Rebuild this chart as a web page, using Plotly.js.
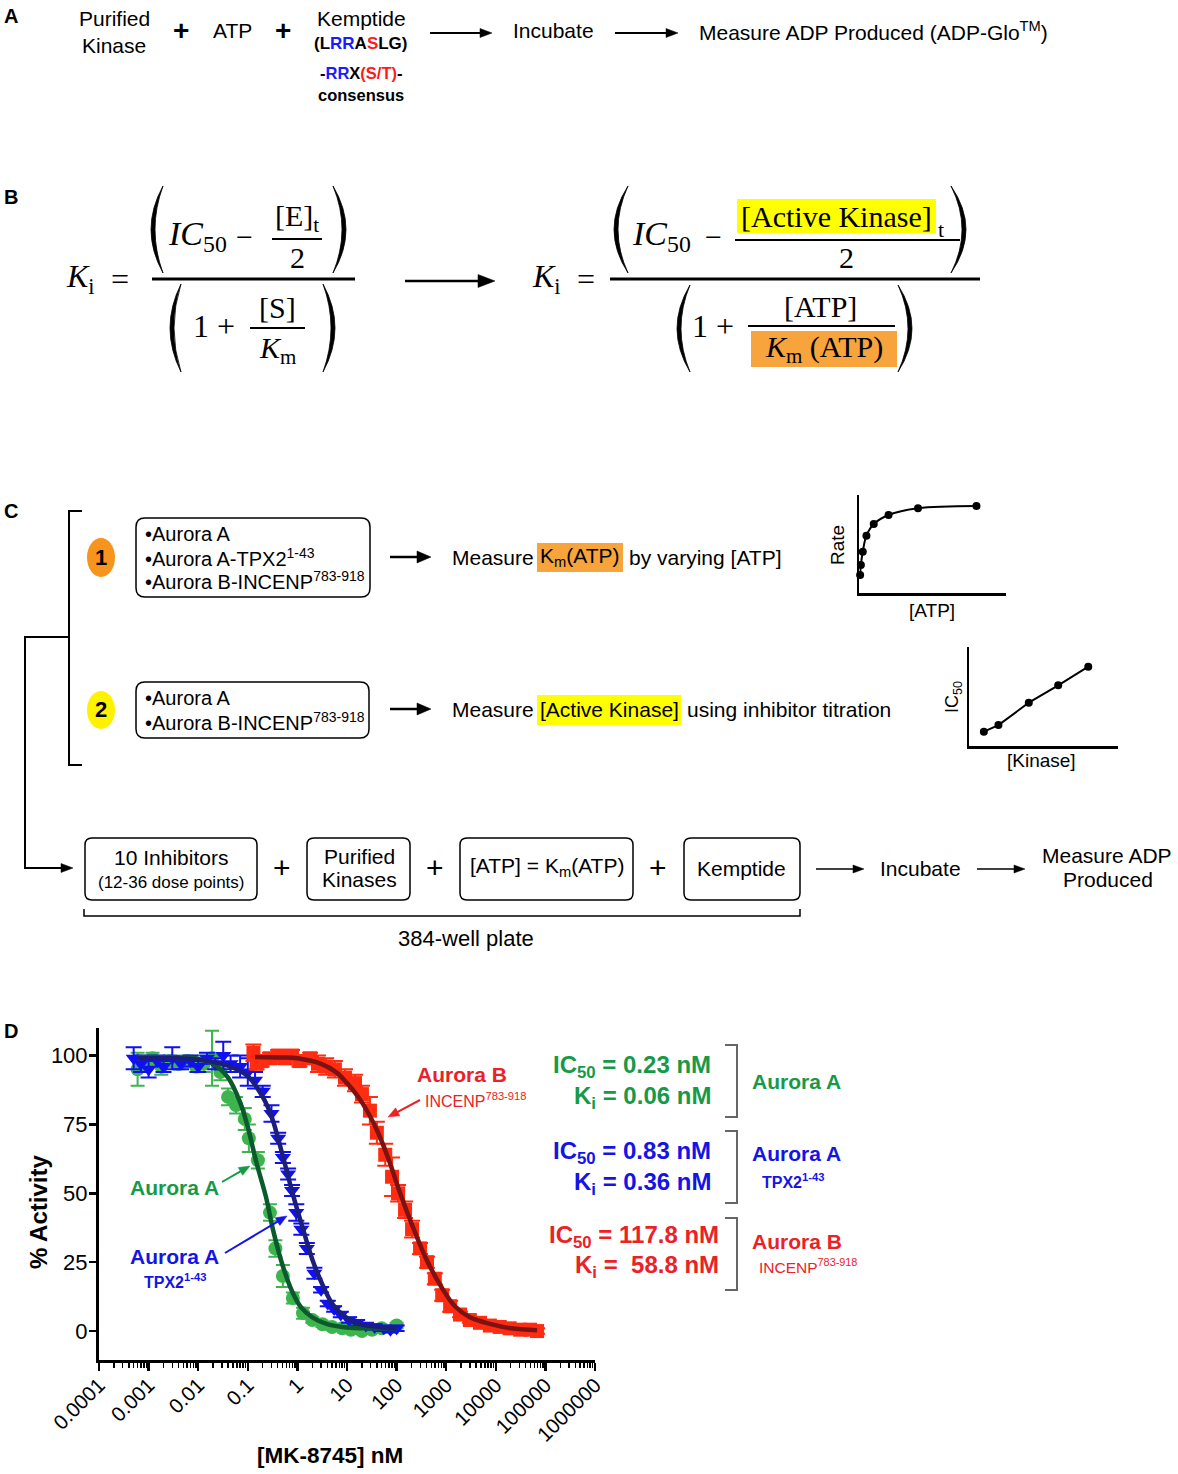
<!DOCTYPE html>
<html><head><meta charset="utf-8">
<script src="https://cdn.plot.ly/plotly-3.0.1.min.js"></script>
<style>html,body{margin:0;padding:0;background:#fff}</style>
</head><body><div id="chart" style="width:1178px;height:1474px"></div>
<script>
// ---------------- DATA (panel D: MK-8745 dose response) ----------------
const greenDose = [0.0006,0.0008,0.0012,0.0018,0.0027,0.004,0.006,0.009,0.013,0.019,0.028,0.04,0.058,0.087,0.105,0.16,0.28,0.36,0.51,0.81,1.3,2.0,3.2,5.0,8.0,12,20,32,50,100];
const greenAct  = [95,97,99,96,98,97,98,96,97,99,94,85,82,77,70,62,43,30,20,12,6.5,4,2.5,1.5,1,0.5,0,0.5,1,2];
const greenErr  = [6,2,2,3,2,2,2,2,3,10,3,3,3,4,5,3,3,3,4,2,2,1,1,1,1,1,1,1,1,1];

const blueDose = [0.0005,0.0007,0.001,0.0015,0.002,0.003,0.0045,0.007,0.01,0.015,0.022,0.032,0.045,0.07,0.1,0.14,0.2,0.3,0.41,0.51,0.65,0.78,0.95,1.2,1.55,2.2,3.0,4.1,5.5,7.5,11,16,24,36,55,75,100];
const blueAct  = [99,97,95,98,96,99,97,98,96,99,97,100,97,96,94,91,87,79,70,63,57,51,43,37,30,21,15,10,8,6,4,3,2,1.5,1,0.5,1];
const blueErr  = [4,3,3,2,2,4,2,2,2,2,2,5,3,4,5,3,2,3,2,2,2,2,3,2,2,2,1,1,1,1,1,1,1,1,1,1,1];

const redDose = [0.13,0.15,0.19,0.28,0.41,0.56,0.78,1.1,1.8,2.6,3.8,5.7,9.1,14.5,20,29,40,59,81,107,148,205,297,410,590,830,1200,1900,3000,4800,7600,12000,19000,31000,49000,68000];
const redAct  = [101,97,98,99,100,99,100,98,99,97,96,95,92,90,86,80,72,64,56,50,44,37,30,25,19,13,9,6,4,3,2,1.5,1,0.5,0.5,0];
const redErr  = [3,2,2,2,2,2,2,2,2,3,3,3,3,3,3,5,4,4,7,3,3,3,2,2,2,2,2,1,1,1,1,1,1,1,1,1];

// fitted curves
const greenFitX = [0.0006,0.005,0.01,0.02,0.04,0.07,0.1,0.15,0.23,0.33,0.5,0.8,1.2,2,4,10,30,100];
const greenFitY = [99.5,99.3,98.8,97,92,83,74,61,49,36,24,14,8.5,5,2.5,1.3,1,1];
const blueFitX = [0.0006,0.003,0.01,0.03,0.06,0.1,0.2,0.3,0.5,0.8,1.3,2,3,5,8,15,30,100];
const blueFitY = [99,99,98.5,97,95,92.5,85,78,64,50,37,26,18,10,6,3,1.8,1];
const redFitX = [0.14,0.5,1,3,6,10,20,40,70,118,200,400,800,1500,3000,8000,20000,68000];
const redFitY = [99.5,99.3,99,97,94,90,83,73,62,50,39,26,16,9,5,2.5,1,0.3];

// tick labels
const xTickVals = [0.0001,0.001,0.01,0.1,1,10,100,1000,10000,100000,1000000];
const xTickText = ['0.0001','0.001','0.01','0.1','1','10','100','1000','10000','100000','1000000'];
const yTickVals = [0,25,50,75,100];

// inset schematics (panel C)
const atpConc = [0.5,1.0,2.3,4.8,9.8,19.9,40,79.9];
const atpRate = [18.6,28.8,42.3,58.6,70.5,79.7,86.5,88.8];
const kinaseConc = [10,19.8,40.2,60,80.2];
const kinaseIC50 = [14.4,21.1,43.6,61.1,79.9];

// ---------------- helpers ----------------
const W = 1178, H = 1474;
const X = p => p / W;
const Y = p => 1 - p / H;
const SANS = '"Liberation Sans",Arial,sans-serif';
const SERIF = '"Liberation Serif","Times New Roman",serif';

const GREEN_TXT = '#169a48', GREEN_MK = '#3db54c', GREEN_FIT = '#0b5a2e';
const BLUE_TXT = '#1414e6', BLUE_MK = '#1010f2', BLUE_FIT = '#1c1f7a';
const RED_TXT = '#ea2228', RED_MK = '#ff2c12', RED_FIT = '#7d1212';
const ORANGE = '#f8a43c', YELLOW = '#ffff00';

function T(x, y, text, size, o = {}) {
  const a = {xref:'paper', yref:'paper', x:X(x), y:Y(y), text, showarrow:false,
    xanchor:o.xa || 'center', yanchor:o.ya || 'middle',
    font:{family:o.family || SANS, size, color:o.color || '#000'}};
  if (o.angle) a.textangle = o.angle;
  return a;
}
function P(str) {
  let n = 0;
  return str.trim().split(/[\s,]+/).map(t => {
    if (/^[A-Za-z]$/.test(t)) return t;
    const v = parseFloat(t); const r = (n % 2 === 0) ? X(v) : Y(v); n++;
    return r.toFixed(6);
  }).join(' ');
}
function pathShape(str, color = '#000', w = 2, fill) {
  const s = {type:'path', xref:'paper', yref:'paper', path:P(str), line:{color, width:w}};
  if (fill) s.fillcolor = fill;
  return s;
}
function line(x0, y0, x1, y1, w = 2, color = '#000') {
  return {type:'line', xref:'paper', yref:'paper', x0:X(x0), y0:Y(y0), x1:X(x1), y1:Y(y1), line:{color, width:w}};
}
function rect(x0, y0, x1, y1, fill) {
  return {type:'rect', xref:'paper', yref:'paper', x0:X(x0), y0:Y(y0), x1:X(x1), y1:Y(y1), fillcolor:fill, line:{width:0}, layer:'below'};
}
function ell(x0, y0, x1, y1, fill) {
  return {type:'circle', xref:'paper', yref:'paper', x0:X(x0), y0:Y(y0), x1:X(x1), y1:Y(y1), fillcolor:fill, line:{width:0}};
}
function rbox(x0, y0, x1, y1, r = 8) {
  return pathShape(`M ${x0+r} ${y0} L ${x1-r} ${y0} Q ${x1} ${y0} ${x1} ${y0+r} L ${x1} ${y1-r} Q ${x1} ${y1} ${x1-r} ${y1} L ${x0+r} ${y1} Q ${x0} ${y1} ${x0} ${y1-r} L ${x0} ${y0+r} Q ${x0} ${y0} ${x0+r} ${y0} Z`, '#000', 1.5);
}
function paren(xe, xm, y0, y1, th) {
  const ym = (y0 + y1) / 2;
  const c1 = 2 * xm - xe, c2 = 2 * (xm + th) - xe;
  return pathShape(`M ${xe} ${y0} Q ${c1} ${ym} ${xe} ${y1} Q ${c2} ${ym} ${xe} ${y0} Z`, '#000', 0.8, '#000');
}
function arrow(x0, y0, x1, y1, color = '#000', w = 1.8, hl = 12, hw = 9) {
  const dx = x1 - x0, dy = y1 - y0, L = Math.hypot(dx, dy), ux = dx / L, uy = dy / L;
  const bx = x1 - ux * hl, by = y1 - uy * hl, nx = -uy, ny = ux;
  return [line(x0, y0, bx + ux, by + uy, w, color),
    pathShape(`M ${x1} ${y1} L ${bx + nx * hw / 2} ${by + ny * hw / 2} L ${bx - nx * hw / 2} ${by - ny * hw / 2} Z`, color, 0.5, color)];
}

// ---------------- traces ----------------
const traces = [
  {x:greenDose, y:greenAct, type:'scatter', mode:'markers', name:'Aurora A', cliponaxis:false,
   marker:{symbol:'circle', size:14, color:GREEN_MK},
   error_y:{type:'data', array:greenErr, visible:true, color:GREEN_MK, thickness:2, width:7}},
  {x:blueDose, y:blueAct, type:'scatter', mode:'markers', name:'Aurora A-TPX2', cliponaxis:false,
   marker:{symbol:'triangle-down', size:14, color:BLUE_MK},
   error_y:{type:'data', array:blueErr, visible:true, color:BLUE_MK, thickness:2, width:8}},
  {x:redDose, y:redAct, type:'scatter', mode:'markers', name:'Aurora B-INCENP', cliponaxis:false,
   marker:{symbol:'square', size:14, color:RED_MK},
   error_y:{type:'data', array:redErr, visible:true, color:RED_MK, thickness:2, width:8}},
  {x:greenFitX, y:greenFitY, type:'scatter', mode:'lines', line:{color:GREEN_FIT, width:4.5, shape:'spline', smoothing:1}},
  {x:blueFitX, y:blueFitY, type:'scatter', mode:'lines', line:{color:BLUE_FIT, width:4.5, shape:'spline', smoothing:1}},
  {x:redFitX, y:redFitY, type:'scatter', mode:'lines', line:{color:RED_FIT, width:4.5, shape:'spline', smoothing:1}},
  {x:atpConc, y:atpRate, xaxis:'x2', yaxis:'y2', type:'scatter', mode:'lines+markers', cliponaxis:false,
   line:{color:'#000', width:2, shape:'spline'}, marker:{color:'#000', size:8}},
  {x:kinaseConc, y:kinaseIC50, xaxis:'x3', yaxis:'y3', type:'scatter', mode:'lines+markers', cliponaxis:false,
   line:{color:'#000', width:2}, marker:{color:'#000', size:8}}
];

const minorVals = [];
for (let d = -4; d < 6; d++) for (let k = 2; k <= 9; k++) minorVals.push(k * Math.pow(10, d));

const insetAxis = (dom, anchor) => ({domain:dom, range:[0,100], anchor, showline:true, linewidth:2.5, linecolor:'#000',
  showticklabels:false, ticks:'', showgrid:false, zeroline:false, fixedrange:true});

// ---------------- shapes ----------------
const shapes = [
  // panel B left equation
  line(152,279,355,279,3), line(272,239,322,239,2), line(250,328,305,328,2),
  paren(163,151,186,273,4), paren(333,346,186,273,-4),
  paren(181,170,284,372,4), paren(323,335,284,372,-4),
  // panel B right equation
  rect(737,199,936,233,YELLOW), rect(751,331,897,367,ORANGE),
  line(610,279,980,279,3), line(735,240,960,240,2), line(748,326,895,326,2),
  paren(628,614,186,273,4), paren(951,966,186,273,-4),
  paren(690,677,285,372,4), paren(898,912,285,372,-4),
  // panel C bracket and branch
  pathShape('M 82 511 L 69 511 L 69 765 L 82 765', '#000', 2),
  pathShape('M 69 637 L 25 637 L 25 868 L 60 868', '#000', 2),
  ell(87,538,115,577,'#f7941d'), ell(87,691,115,729,'#fff200'),
  rbox(136,518,370,597,9), rbox(136,682,369,738,9),
  rect(537,543,623,572,ORANGE), rect(537,695,681,725,YELLOW),
  rbox(85,838,257,900,7), rbox(307,838,410,900,7), rbox(460,838,633,900,7), rbox(684,838,800,900,7),
  pathShape('M 84 909 L 84 916 L 800 916 L 800 909', '#000', 1.5),
  // panel D brackets
  pathShape('M 725 1045 L 737 1045 L 737 1117 L 725 1117', '#666', 2),
  pathShape('M 725 1131 L 737 1131 L 737 1203 L 725 1203', '#666', 2),
  pathShape('M 725 1218 L 737 1218 L 737 1290 L 725 1290', '#666', 2),
  // arrows
  ...arrow(430,33,492,33,'#000',1.8,12,9), ...arrow(615,33,678,33,'#000',1.8,12,9),
  ...arrow(405,281,495,281,'#000',2.5,17,13),
  ...arrow(25,868,73,868,'#000',2,12,9),
  ...arrow(390,557,431,557,'#000',2.5,14,12), ...arrow(390,709,431,709,'#000',2.5,14,12),
  ...arrow(816,869,864,869,'#000',1.5,11,8), ...arrow(977,869,1025,869,'#000',1.5,11,8),
  ...arrow(420,1100,388,1117,RED_TXT,2,11,9),
  ...arrow(222,1182,250,1166,GREEN_TXT,2,11,9),
  ...arrow(225,1253,287,1216,BLUE_TXT,2,11,9)
];

// ---------------- annotations ----------------
const B = s => '<b>' + s + '</b>';
const NB = '\u00a0';
const ann = [
  T(2,16,B('A'),20,{xa:'left'}), T(2,197,B('B'),20,{xa:'left'}),
  T(2,511,B('C'),20,{xa:'left'}), T(2,1031,B('D'),20,{xa:'left'}),
  // panel A
  T(114,19,'Purified',21), T(114,45,'Kinase',21),
  T(181,31,B('+'),28), T(232,31,'ATP',21), T(283,31,B('+'),28),
  T(361,19,'Kemptide',21),
  T(361,43,B('(L<span style="color:#1a1aff">RR</span>A<span style="color:#ff1a1a">S</span>LG)'),17),
  T(361,73,B('-<span style="color:#1a1aff">RR</span>X<span style="color:#ff1a1a">(S/T)</span>-'),16.5),
  T(361,95,B('consensus'),16.5),
  T(553,31,'Incubate',21),
  T(697,31,'Measure ADP Produced (ADP-Glo<sup>TM</sup>)',21,{xa:'left'}),
  // panel B left
  T(64,278,'<i>K</i><sub>i</sub>',32,{family:SERIF, xa:'left'}), T(120,279,'=',32,{family:SERIF}),
  T(166,236,'<i>IC</i><sub>50</sub>',34,{family:SERIF, xa:'left'}), T(244,237,'\u2212',30,{family:SERIF}),
  T(297,218,'[E]<sub>t</sub>',30,{family:SERIF}), T(297,257,'2',30,{family:SERIF}),
  T(214,326,'1 +',32,{family:SERIF}), T(277,307,'[S]',30,{family:SERIF}),
  T(277,350,'<i>K</i><sub>m</sub>',30,{family:SERIF}),
  // panel B right
  T(530,278,'<i>K</i><sub>i</sub>',32,{family:SERIF, xa:'left'}), T(586,279,'=',32,{family:SERIF}),
  T(630,236,'<i>IC</i><sub>50</sub>',34,{family:SERIF, xa:'left'}), T(714,237,'\u2212',30,{family:SERIF}),
  T(836,216,'[Active Kinase]',30,{family:SERIF}), T(941,229,'t',22,{family:SERIF}),
  T(846,258,'2',30,{family:SERIF}),
  T(713,326,'1 +',32,{family:SERIF}), T(820,306,'[ATP]',30,{family:SERIF}),
  T(824,349,'<i>K</i><sub>m</sub> (ATP)',30,{family:SERIF}),
  // panel C
  T(101,557,B('1'),22), T(101,710,B('2'),22),
  T(143,534,'\u2022Aurora A',20,{xa:'left'}), T(143,557,'\u2022Aurora A-TPX2<sup>1-43</sup>',20,{xa:'left'}),
  T(143,580,'\u2022Aurora B-INCENP<sup>783-918</sup>',20,{xa:'left'}),
  T(450,557,'Measure',21,{xa:'left'}), T(580,557,'K<sub>m</sub>(ATP)',21), T(627,557,'by varying [ATP]',21,{xa:'left'}),
  T(143,698,'\u2022Aurora A',20,{xa:'left'}), T(143,721,'\u2022Aurora B-INCENP<sup>783-918</sup>',20,{xa:'left'}),
  T(450,709,'Measure',21,{xa:'left'}), T(609,710,'[Active Kinase]',21), T(685,709,'using inhibitor titration',21,{xa:'left'}),
  T(838,545,'Rate',19,{angle:-90}), T(932,610,'[ATP]',19),
  T(953,697,'IC<sub>50</sub>',18,{angle:-90}), T(1041,760,'[Kinase]',19),
  T(171,857,'10 Inhibitors',21), T(171,882,'(12-36 dose points)',17),
  T(282,867,'+',30),
  T(359,856,'Purified',21), T(359,880,'Kinases',21),
  T(435,867,'+',30),
  T(547,867,'[ATP] = K<sub>m</sub>(ATP)',21),
  T(658,867,'+',30),
  T(742,868,'Kemptide',21),
  T(920,868,'Incubate',21),
  T(1107,855,'Measure ADP',21), T(1108,880,'Produced',21),
  T(466,938,'384-well plate',22),
  // panel D
  T(38,1212,B('% Activity'),24,{angle:-90}),
  T(330,1455,B('[MK-8745] nM'),22.5),
  T(462,1074,B('Aurora B'),21,{color:RED_TXT}), T(476,1100,'INCENP<sup>783-918</sup>',16,{color:RED_TXT}),
  T(175,1187,B('Aurora A'),21,{color:GREEN_TXT}),
  T(175,1256,B('Aurora A'),21,{color:BLUE_TXT}), T(175,1281,B('TPX2<sup>1-43</sup>'),16,{color:BLUE_TXT}),
  T(713,1066,B('IC<sub>50</sub> = 0.23 nM'),24,{xa:'right', color:GREEN_TXT}),
  T(713,1097,B('K<sub>i</sub> = 0.06 nM'),24,{xa:'right', color:GREEN_TXT}),
  T(750,1081,B('Aurora A'),21,{xa:'left', color:GREEN_TXT}),
  T(713,1152,B('IC<sub>50</sub> = 0.83 nM'),24,{xa:'right', color:BLUE_TXT}),
  T(713,1183,B('K<sub>i</sub> = 0.36 nM'),24,{xa:'right', color:BLUE_TXT}),
  T(750,1153,B('Aurora A'),21,{xa:'left', color:BLUE_TXT}),
  T(793,1181,B('TPX2<sup>1-43</sup>'),16,{color:BLUE_TXT}),
  T(721,1236,B('IC<sub>50</sub> = 117.8 nM'),24,{xa:'right', color:RED_TXT}),
  T(721,1266,B('K<sub>i</sub> =' + NB + ' 58.8 nM'),24,{xa:'right', color:RED_TXT}),
  T(750,1241,B('Aurora B'),21,{xa:'left', color:RED_TXT}),
  T(808,1266,'INCENP<sup>783-918</sup>',15.5,{color:RED_TXT})
];

const layout = {
  width:W, height:H, margin:{l:0, r:0, t:0, b:0}, paper_bgcolor:'#fff', plot_bgcolor:'rgba(0,0,0,0)',
  showlegend:false,
  xaxis:{type:'log', domain:[X(99), X(595)], range:[-4,6], anchor:'y',
    tickmode:'array', tickvals:xTickVals, ticktext:xTickText, tickangle:-45,
    ticks:'outside', ticklen:8, tickwidth:2.5, tickcolor:'#000', ticklabelstandoff:-6,
    showline:true, linewidth:3, linecolor:'#000', showgrid:false, zeroline:false,
    tickfont:{family:SANS, size:20.5, color:'#000'},
    minor:{tickmode:'array', tickvals:minorVals, ticks:'outside', ticklen:5, tickwidth:1.5, tickcolor:'#000', showgrid:false}},
  yaxis:{domain:[Y(1360), Y(1028)], range:[-10.5,110], anchor:'x',
    tickmode:'array', tickvals:yTickVals, ticks:'outside', ticklen:7, tickwidth:2.5, tickcolor:'#000', ticklabelstandoff:-3,
    showline:true, linewidth:3, linecolor:'#000', showgrid:false, zeroline:false,
    tickfont:{family:SANS, size:22, color:'#000'}},
  xaxis2:insetAxis([X(859.4), X(1005.9)], 'y2'),
  yaxis2:insetAxis([Y(593.3), Y(495)], 'x2'),
  xaxis3:insetAxis([X(969), X(1117.7)], 'y3'),
  yaxis3:insetAxis([Y(746), Y(646.7)], 'x3'),
  shapes, annotations:ann
};

Plotly.newPlot('chart', traces, layout, {staticPlot:true, displayModeBar:false});
</script></body></html>
